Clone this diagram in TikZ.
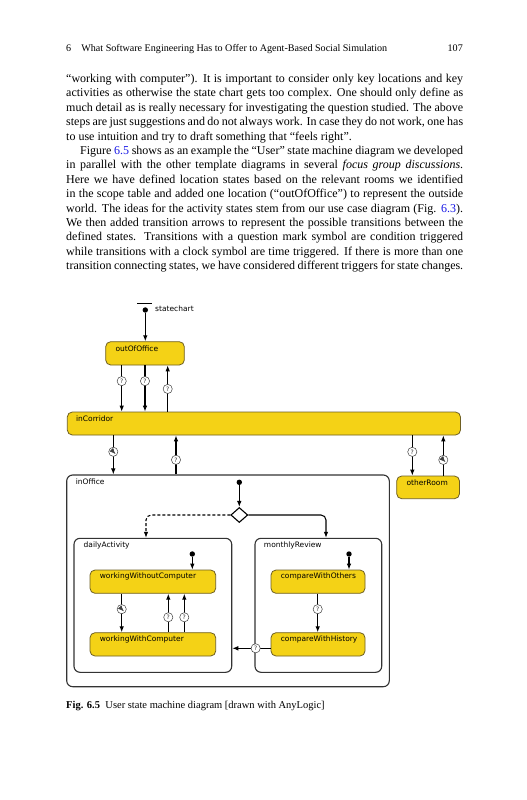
\documentclass[tikz,border=0pt]{standalone}
\usepackage{fontspec}
\setmainfont{Liberation Serif}
\newfontfamily\dgfont{DejaVu Sans}
\usetikzlibrary{shapes.geometric,arrows.meta,calc}
\definecolor{stY}{RGB}{244,210,22}
\definecolor{stB}{RGB}{110,95,35}
\definecolor{lnk}{RGB}{25,25,230}
\begin{document}
\begin{tikzpicture}[x=1pt,y=-1pt,
 txt/.style={anchor=base west,inner sep=0pt,font=\fontsize{12}{14.4}\selectfont},
 st/.style={draw=stB,fill=stY,line width=0.8pt,rounded corners=5pt,inner sep=0pt},
 box/.style={draw=black!80,fill=white,line width=1.1pt,rounded corners=6pt,inner sep=0pt},
 lab/.style={anchor=west,inner sep=0pt,font=\dgfont\fontsize{7.5}{8}\selectfont},
 arr/.style={-{Latex[length=6pt,width=4.6pt]},line width=1.05pt},
 qm/.style={circle,draw=black!75,fill=white,line width=0.5pt,minimum size=9.2pt,inner sep=0pt,font=\dgfont\fontsize{6}{6}\selectfont,text=black!80},
 ck/.style={circle,draw=black!75,fill=white,line width=0.5pt,minimum size=9.2pt,inner sep=0pt,
   path picture={\draw[line width=0.45pt,black!75] (path picture bounding box.center) -- ++(0,3.2pt) (path picture bounding box.center) -- ++(2.2pt,-2.2pt);}},
 idot/.style={circle,fill=black,minimum size=5.4pt,inner sep=0pt},
 ]
\useasboundingbox (0,0) rectangle (527,800);
\fill[white] (0,0) rectangle (527,800);

% header
\node[anchor=base west,inner sep=0pt,font=\fontsize{10.1}{12}\selectfont] (hd) at (66,52) {6\hspace{1em}What Software Engineering Has to Offer to Agent-Based Social Simulation};
\node[anchor=base east,inner sep=0pt,font=\fontsize{10.1}{12}\selectfont] (pg) at (463,52) {107};

% body text
\node[txt] (l1) at (66,82.5) {\makebox[397pt][s]{“working with computer”). It is important to consider only key locations and key}};
\node[txt] (l2) at (66,96.9) {\makebox[397pt][s]{activities as otherwise the state chart gets too complex. One should only define as}};
\node[txt] (l3) at (66,111.3) {\makebox[397pt][s]{much detail as is really necessary for investigating the question studied. The above}};
\node[txt] (l4) at (66,125.7) {\makebox[397pt][s]{steps are just suggestions and do not always work. In case they do not work, one has}};
\node[txt] (l5) at (66,140.1) {to use intuition and try to draft something that “feels right”.};
\node[txt] (l6) at (80,154.5) {\makebox[383pt][s]{Figure \textcolor{lnk}{6.5} shows as an example the “User” state machine diagram we developed}};
\node[txt] (l7) at (66,168.9) {\makebox[397pt][s]{in parallel with the other template diagrams in several \textit{focus group discussions}.}};
\node[txt] (l8) at (66,183.3) {\makebox[397pt][s]{Here we have defined location states based on the relevant rooms we identified}};
\node[txt] (l9) at (66,197.7) {\makebox[397pt][s]{in the scope table and added one location (“outOfOffice”) to represent the outside}};
\node[txt] (l10) at (66,212.1) {\makebox[397pt][s]{world. The ideas for the activity states stem from our use case diagram (Fig. \textcolor{lnk}{6.3}).}};
\node[txt] (l11) at (66,226.5) {\makebox[397pt][s]{We then added transition arrows to represent the possible transitions between the}};
\node[txt] (l12) at (66,240.9) {\makebox[397pt][s]{defined states. Transitions with a question mark symbol are condition triggered}};
\node[txt] (l13) at (66,255.3) {\makebox[397pt][s]{while transitions with a clock symbol are time triggered. If there is more than one}};
\node[txt] (l14) at (66,269.7) {\makebox[397pt][s]{transition connecting states, we have considered different triggers for state changes.}};

% caption
\node[anchor=base west,inner sep=0pt,font=\fontsize{10.5}{13}\selectfont] (cap) at (66,708.5) {\textbf{Fig. 6.5}\hspace{5.4pt}User state machine diagram [drawn with AnyLogic]};

% ---------- diagram ----------
% containers
\node[box,minimum width=322.6pt,minimum height=211.7pt] (io) at (228,580.85) {};
\node[box,minimum width=157.7pt,minimum height=134pt] (da) at (152.85,605.3) {};
\node[box,minimum width=126.7pt,minimum height=134pt] (mr) at (318.35,605.3) {};
% states
\node[st,minimum width=78.6pt,minimum height=23.3pt] (ooo) at (145,353.35) {};
\node[st,minimum width=393.2pt,minimum height=23pt] (corr) at (263.9,423.5) {};
\node[st,minimum width=62.8pt,minimum height=22.7pt] (oth) at (428.1,487.35) {};
\node[st,minimum width=125.7pt,minimum height=23.3pt] (wwoc) at (152.85,581.65) {};
\node[st,minimum width=125.7pt,minimum height=23.3pt] (wwc) at (152.85,644.35) {};
\node[st,minimum width=94pt,minimum height=23.3pt] (cwo) at (318,581.65) {};
\node[st,minimum width=94pt,minimum height=23.3pt] (cwh) at (318,644.35) {};

% labels
\node[lab] (tooo) at ($(ooo.north west)+(10,7)$) {outOfOffice};
\node[lab] (tcorr) at ($(corr.north west)+(9,7)$) {inCorridor};
\node[lab] (toth) at ($(oth.north west)+(10,7)$) {otherRoom};
\node[lab] (tio) at ($(io.north west)+(9.5,7.6)$) {inOffice};
\node[lab] (tda) at ($(da.north west)+(10,7.4)$) {dailyActivity};
\node[lab] (tmr) at ($(mr.north west)+(9.3,7.4)$) {monthlyReview};
\node[lab] (twwoc) at ($(wwoc.north west)+(10,7)$) {workingWithoutComputer};
\node[lab] (twwc) at ($(wwc.north west)+(10,7)$) {workingWithComputer};
\node[lab] (tcwo) at ($(cwo.north west)+(10,7)$) {compareWithOthers};
\node[lab] (tcwh) at ($(cwh.north west)+(10,7)$) {compareWithHistory};

% statechart entry
\node[idot] (sc) at (145.3,310) {};
\draw[line width=1.4pt] ($(sc)+(-8,-6.7)$) -- ($(sc)+(6.7,-6.7)$);
\node[lab] (tsc) at (155,309) {statechart};
\draw[arr] (sc) -- (ooo.north -| sc);

% x positions
\coordinate (a1) at (121.7,0);
\coordinate (a2) at (145,0);
\coordinate (a3) at (167.7,0);
\coordinate (b1) at (113.3,0);
\coordinate (b2) at (176,0);
\coordinate (b3) at (412.3,0);
\coordinate (b4) at (443.3,0);
\coordinate (c1) at (121.7,0);
\coordinate (c2) at (168.3,0);
\coordinate (c3) at (184.3,0);
\coordinate (d1) at (317.7,0);
\coordinate (e1) at (0,648.3);
\coordinate (f1) at (146,0);
\coordinate (f2) at (326,0);

% outOfOffice <-> inCorridor
\draw[arr] (ooo.south -| a1) -- (corr.north -| a1) node[qm,pos=0.34] {?};
\draw[arr] (ooo.south -| a2) -- (corr.north -| a2) node[qm,pos=0.34] {?};
\draw[arr] (corr.north -| a3) -- (ooo.south -| a3) node[qm,pos=0.49] {?};
% inCorridor <-> inOffice / otherRoom
\draw[arr] (corr.south -| b1) -- (io.north -| b1) node[ck,pos=0.42] {};
\draw[arr] (io.north -| b2) -- (corr.south -| b2) node[qm,pos=0.375] {?};
\draw[arr] (corr.south -| b3) -- (oth.north -| b3) node[qm,pos=0.41] {?};
\draw[arr] (oth.north -| b4) -- (corr.south -| b4) node[ck,pos=0.39] {};

% inOffice internals
\node[idot] (iod) at (239.3,482.3) {};
\node[diamond,draw=black,fill=white,line width=1.1pt,minimum width=17pt,minimum height=15pt,inner sep=0pt] (dia) at (239.3,515) {};
\draw[arr] (iod) -- (dia.north);
\draw[arr,dash pattern=on 3pt off 2pt,rounded corners=5pt] (dia.west) -| (da.north -| f1);
\draw[arr,rounded corners=5pt] (dia.east) -| (mr.north -| f2);

% dailyActivity
\node[idot] (dad) at (192.3,554) {};
\draw[arr] (dad) -- (wwoc.north -| dad);
\draw[arr] (wwoc.south -| c1) -- (wwc.north -| c1) node[ck,pos=0.4] {};
\draw[arr] (wwc.north -| c2) -- (wwoc.south -| c2) node[qm,pos=0.39] {?};
\draw[arr] (wwc.north -| c3) -- (wwoc.south -| c3) node[qm,pos=0.39] {?};

% monthlyReview
\node[idot] (mrd) at (349,554) {};
\draw[arr] (mrd) -- (cwo.north -| mrd);
\draw[arr] (cwo.south -| d1) -- (cwh.north -| d1) node[qm,pos=0.4] {?};
\draw[arr] (cwh.west |- e1) -- (da.east |- e1) node[qm,pos=0.39] {?};
\end{tikzpicture}
\end{document}
